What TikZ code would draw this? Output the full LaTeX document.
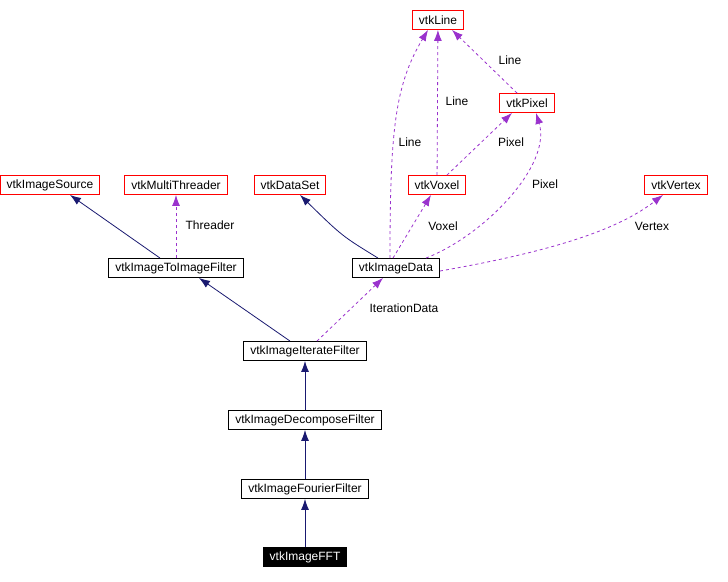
\documentclass[tikz,border=0pt]{standalone}
\usepackage{fontspec}
\setmainfont{Liberation Sans}
\usetikzlibrary{arrows.meta}
\definecolor{inhblue}{HTML}{191970}
\definecolor{usepurple}{HTML}{9A32CD}
\tikzset{
  cls/.style={draw=black, line width=0.9pt, rectangle, minimum height=19pt,
    inner xsep=6.5pt, inner ysep=0pt, font=\fontsize{12}{13}\selectfont},
  ext/.style={cls, draw=red},
  inh/.style={draw=inhblue, line width=0.8pt, -{Latex[length=11pt,width=8pt]}},
  usg/.style={draw=usepurple, line width=0.8pt, dash pattern=on 3pt off 3pt,
    -{Latex[length=11pt,width=8pt]}},
  lbl/.style={font=\fontsize{12}{13}\selectfont, inner sep=1pt}
}
\begin{document}
\begin{tikzpicture}[x=1pt,y=-1pt]
  \useasboundingbox (0,0) rectangle (728,581);

  \node[ext] (line)     at (438,20)  {vtkLine};
  \node[ext] (pixel)    at (527,103) {vtkPixel};
  \node[ext] (source)   at (50,185)  {vtkImageSource};
  \node[ext] (threader) at (176,185) {vtkMultiThreader};
  \node[ext] (dataset)  at (290,185) {vtkDataSet};
  \node[ext] (voxel)    at (437,185) {vtkVoxel};
  \node[ext] (vertex)   at (676,185) {vtkVertex};
  \node[cls] (itoi)     at (176,268) {vtkImageToImageFilter};
  \node[cls] (data)     at (396,268) {vtkImageData};
  \node[cls] (iter)     at (305,351) {vtkImageIterateFilter};
  \node[cls] (decomp)   at (305,420) {vtkImageDecomposeFilter};
  \node[cls] (fourier)  at (305,489) {vtkImageFourierFilter};
  \node[cls, fill=black, text=white] (fft) at (305,557) {vtkImageFFT};

  % inheritance
  \draw[inh] (fft) -- (fourier);
  \draw[inh] (fourier) -- (decomp);
  \draw[inh] (decomp) -- (iter);
  \draw[inh] ([xshift=-15pt]iter.north) -- ([xshift=23pt]itoi.south);
  \draw[inh] ([xshift=-16pt]itoi.north) .. controls (120,230) .. ([xshift=20pt]source.south);
  \draw[inh] ([xshift=-18pt]data.north) .. controls (342,236) .. ([xshift=10pt]dataset.south);

  % usage
  \draw[usg] (itoi) -- (threader) node[lbl, at={(210,225)}] {Threader};
  \draw[usg] ([xshift=12pt]iter.north) -- ([xshift=-13pt]data.south)
    node[lbl, at={(404,308)}] {IterationData};
  \draw[usg] ([xshift=-3pt]data.north) -- ([xshift=-6pt]voxel.south)
    node[lbl, at={(443,226)}] {Voxel};
  \draw[usg] ([xshift=-6pt]data.north) .. controls (390,130) and (395,85) .. ([xshift=-10pt]line.south)
    node[lbl, at={(410,142)}] {Line};
  \draw[usg] ([xshift=30pt]data.north) .. controls (485,235) and (552,165) .. ([xshift=9pt]pixel.south)
    node[lbl, at={(545,184)}] {Pixel};
  \draw[usg] ([yshift=-3pt]data.east) .. controls (560,250) and (620,228) .. ([xshift=-13pt]vertex.south)
    node[lbl, at={(652,226)}] {Vertex};
  \draw[usg] (voxel) -- (line) node[lbl, at={(457,101)}] {Line};
  \draw[usg] ([xshift=10pt]voxel.north) -- ([xshift=-15pt]pixel.south)
    node[lbl, at={(511,142)}] {Pixel};
  \draw[usg] ([xshift=-10pt]pixel.north) -- ([xshift=14pt]line.south)
    node[lbl, at={(510,60)}] {Line};
\end{tikzpicture}
\end{document}
